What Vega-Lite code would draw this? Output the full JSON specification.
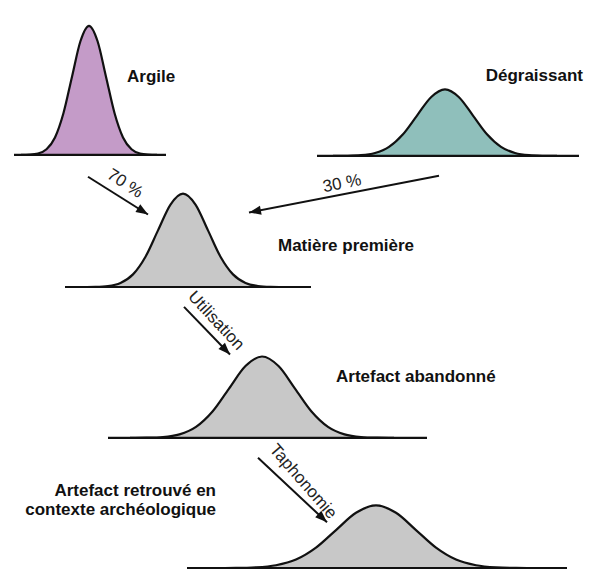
{
  "$schema": "https://vega.github.io/schema/vega-lite/v6.json",
  "width": 590,
  "height": 573,
  "autosize": {"type": "fit", "contains": "padding"},
  "padding": 0,
  "background": "white",
  "config": {"view": {"stroke": null}},
  "datasets": {
    "curves": [
      {"curve": "Argile", "x": 21, "y": 156, "base": 156},
      {"curve": "Argile", "x": 29.5, "y": 155.7, "base": 156},
      {"curve": "Argile", "x": 38, "y": 154.6, "base": 156},
      {"curve": "Argile", "x": 46.5, "y": 150.3, "base": 156},
      {"curve": "Argile", "x": 55, "y": 138.4, "base": 156},
      {"curve": "Argile", "x": 63.5, "y": 113.8, "base": 156},
      {"curve": "Argile", "x": 72, "y": 77.2, "base": 156},
      {"curve": "Argile", "x": 80.5, "y": 41.3, "base": 156},
      {"curve": "Argile", "x": 89, "y": 26, "base": 156},
      {"curve": "Argile", "x": 97.5, "y": 41.3, "base": 156},
      {"curve": "Argile", "x": 106, "y": 77.2, "base": 156},
      {"curve": "Argile", "x": 114.5, "y": 113.8, "base": 156},
      {"curve": "Argile", "x": 123, "y": 138.4, "base": 156},
      {"curve": "Argile", "x": 131.5, "y": 150.3, "base": 156},
      {"curve": "Argile", "x": 140, "y": 154.6, "base": 156},
      {"curve": "Argile", "x": 148.5, "y": 155.7, "base": 156},
      {"curve": "Argile", "x": 157, "y": 156, "base": 156},
      {"curve": "Dégraissant", "x": 333, "y": 157, "base": 157},
      {"curve": "Dégraissant", "x": 347, "y": 156.85, "base": 157},
      {"curve": "Dégraissant", "x": 361, "y": 156.3, "base": 157},
      {"curve": "Dégraissant", "x": 375, "y": 154.1, "base": 157},
      {"curve": "Dégraissant", "x": 389, "y": 147.9, "base": 157},
      {"curve": "Dégraissant", "x": 403, "y": 135.2, "base": 157},
      {"curve": "Dégraissant", "x": 417, "y": 116.4, "base": 157},
      {"curve": "Dégraissant", "x": 431, "y": 97.9, "base": 157},
      {"curve": "Dégraissant", "x": 445, "y": 90, "base": 157},
      {"curve": "Dégraissant", "x": 459, "y": 97.9, "base": 157},
      {"curve": "Dégraissant", "x": 473, "y": 116.4, "base": 157},
      {"curve": "Dégraissant", "x": 487, "y": 135.2, "base": 157},
      {"curve": "Dégraissant", "x": 501, "y": 147.9, "base": 157},
      {"curve": "Dégraissant", "x": 515, "y": 154.1, "base": 157},
      {"curve": "Dégraissant", "x": 529, "y": 156.3, "base": 157},
      {"curve": "Dégraissant", "x": 543, "y": 156.85, "base": 157},
      {"curve": "Dégraissant", "x": 557, "y": 157, "base": 157},
      {"curve": "Matière première", "x": 83, "y": 289, "base": 289},
      {"curve": "Matière première", "x": 95.5, "y": 288.8, "base": 289},
      {"curve": "Matière première", "x": 108, "y": 288, "base": 289},
      {"curve": "Matière première", "x": 120.5, "y": 284.9, "base": 289},
      {"curve": "Matière première", "x": 133, "y": 276.3, "base": 289},
      {"curve": "Matière première", "x": 145.5, "y": 258.5, "base": 289},
      {"curve": "Matière première", "x": 158, "y": 232, "base": 289},
      {"curve": "Matière première", "x": 170.5, "y": 206, "base": 289},
      {"curve": "Matière première", "x": 183, "y": 195, "base": 289},
      {"curve": "Matière première", "x": 195.5, "y": 206, "base": 289},
      {"curve": "Matière première", "x": 208, "y": 232, "base": 289},
      {"curve": "Matière première", "x": 220.5, "y": 258.5, "base": 289},
      {"curve": "Matière première", "x": 233, "y": 276.3, "base": 289},
      {"curve": "Matière première", "x": 245.5, "y": 284.9, "base": 289},
      {"curve": "Matière première", "x": 258, "y": 288, "base": 289},
      {"curve": "Matière première", "x": 270.5, "y": 288.8, "base": 289},
      {"curve": "Matière première", "x": 283, "y": 289, "base": 289},
      {"curve": "Artefact abandonné", "x": 130, "y": 441, "base": 441},
      {"curve": "Artefact abandonné", "x": 146.5, "y": 440.8, "base": 441},
      {"curve": "Artefact abandonné", "x": 163, "y": 440.1, "base": 441},
      {"curve": "Artefact abandonné", "x": 179.5, "y": 437.4, "base": 441},
      {"curve": "Artefact abandonné", "x": 196, "y": 429.9, "base": 441},
      {"curve": "Artefact abandonné", "x": 212.5, "y": 414.4, "base": 441},
      {"curve": "Artefact abandonné", "x": 229, "y": 391.3, "base": 441},
      {"curve": "Artefact abandonné", "x": 245.5, "y": 368.6, "base": 441},
      {"curve": "Artefact abandonné", "x": 262, "y": 359, "base": 441},
      {"curve": "Artefact abandonné", "x": 278.5, "y": 368.6, "base": 441},
      {"curve": "Artefact abandonné", "x": 295, "y": 391.3, "base": 441},
      {"curve": "Artefact abandonné", "x": 311.5, "y": 414.4, "base": 441},
      {"curve": "Artefact abandonné", "x": 328, "y": 429.9, "base": 441},
      {"curve": "Artefact abandonné", "x": 344.5, "y": 437.4, "base": 441},
      {"curve": "Artefact abandonné", "x": 361, "y": 440.1, "base": 441},
      {"curve": "Artefact abandonné", "x": 377.5, "y": 440.8, "base": 441},
      {"curve": "Artefact abandonné", "x": 394, "y": 441, "base": 441},
      {"curve": "Artefact retrouvé", "x": 216, "y": 572, "base": 572},
      {"curve": "Artefact retrouvé", "x": 236, "y": 571.9, "base": 572},
      {"curve": "Artefact retrouvé", "x": 256, "y": 571.3, "base": 572},
      {"curve": "Artefact retrouvé", "x": 276, "y": 569.2, "base": 572},
      {"curve": "Artefact retrouvé", "x": 296, "y": 563.5, "base": 572},
      {"curve": "Artefact retrouvé", "x": 316, "y": 551.5, "base": 572},
      {"curve": "Artefact retrouvé", "x": 336, "y": 533.8, "base": 572},
      {"curve": "Artefact retrouvé", "x": 356, "y": 516.4, "base": 572},
      {"curve": "Artefact retrouvé", "x": 376, "y": 509, "base": 572},
      {"curve": "Artefact retrouvé", "x": 396, "y": 516.4, "base": 572},
      {"curve": "Artefact retrouvé", "x": 416, "y": 533.8, "base": 572},
      {"curve": "Artefact retrouvé", "x": 436, "y": 551.5, "base": 572},
      {"curve": "Artefact retrouvé", "x": 456, "y": 563.5, "base": 572},
      {"curve": "Artefact retrouvé", "x": 476, "y": 569.2, "base": 572},
      {"curve": "Artefact retrouvé", "x": 496, "y": 571.3, "base": 572},
      {"curve": "Artefact retrouvé", "x": 516, "y": 571.9, "base": 572},
      {"curve": "Artefact retrouvé", "x": 536, "y": 572, "base": 572}
    ],
    "baselines": [
      {"curve": "Argile", "x": 14, "x2": 166, "y": 156},
      {"curve": "Dégraissant", "x": 317, "x2": 579, "y": 157},
      {"curve": "Matière première", "x": 65, "x2": 311, "y": 289},
      {"curve": "Artefact abandonné", "x": 108, "x2": 427, "y": 441},
      {"curve": "Artefact retrouvé", "x": 187, "x2": 567, "y": 572}
    ],
    "arrows": [
      {"arrow": "70", "x": 88, "y": 178, "x2": 148, "y2": 216},
      {"arrow": "30", "x": 439, "y": 177, "x2": 249, "y2": 214},
      {"arrow": "util", "x": 184, "y": 309, "x2": 230, "y2": 357},
      {"arrow": "taph", "x": 258, "y": 461, "x2": 327, "y2": 526}
    ],
    "labels": [
      {"text": "Argile", "x": 127, "y": 83},
      {"text": "Dégraissant", "x": 583, "y": 82},
      {"text": "Matière première", "x": 278, "y": 253},
      {"text": "Artefact abandonné", "x": 336, "y": 385},
      {"text": "Artefact retrouvé en", "x": 216, "y": 499},
      {"text": "contexte archéologique", "x": 216, "y": 519}
    ],
    "arrowLabels": [
      {"text": "70 %", "x": 125, "y": 185},
      {"text": "30 %", "x": 342, "y": 185},
      {"text": "Utilisation", "x": 216, "y": 323},
      {"text": "Taphonomie", "x": 303, "y": 485}
    ]
  },
  "encoding": {
    "x": {"field": "x", "type": "quantitative", "scale": {"domain": [0, 590], "nice": false, "zero": false}, "axis": null},
    "y": {"field": "y", "type": "quantitative", "scale": {"domain": [0, 573], "nice": false, "zero": false, "reverse": true}, "axis": null}
  },
  "layer": [
    {
      "data": {"name": "curves"},
      "mark": {"type": "area", "interpolate": "monotone", "opacity": 1},
      "encoding": {
        "y2": {"field": "base"},
        "color": {
          "field": "curve", "type": "nominal", "legend": null,
          "scale": {
            "domain": ["Argile", "Dégraissant", "Matière première", "Artefact abandonné", "Artefact retrouvé"],
            "range": ["#c49bc8", "#8fbfbb", "#c8c8c8", "#c8c8c8", "#c8c8c8"]
          }
        }
      }
    },
    {
      "data": {"name": "curves"},
      "mark": {"type": "line", "interpolate": "monotone", "color": "#111111", "strokeWidth": 2.2},
      "encoding": {"detail": {"field": "curve"}}
    },
    {
      "data": {"name": "baselines"},
      "mark": {"type": "rule", "color": "#111111", "strokeWidth": 2.2},
      "encoding": {"x2": {"field": "x2"}}
    },
    {
      "data": {"name": "arrows"},
      "mark": {"type": "rule", "color": "#111111", "strokeWidth": 2},
      "encoding": {"x2": {"field": "x2"}, "y2": {"field": "y2"}}
    },
    {
      "data": {"name": "arrows"},
      "transform": [{"filter": "datum.arrow == '70'"}],
      "mark": {"type": "point", "shape": "M0,0L-2,-0.75L-2,0.75Z", "filled": true, "size": 144, "color": "#111111", "opacity": 1, "angle": 32.3},
      "encoding": {
        "x": {"field": "x2", "type": "quantitative", "scale": {"domain": [0, 590], "nice": false, "zero": false}, "axis": null},
        "y": {"field": "y2", "type": "quantitative", "scale": {"domain": [0, 573], "nice": false, "zero": false, "reverse": true}, "axis": null}
      }
    },
    {
      "data": {"name": "arrows"},
      "transform": [{"filter": "datum.arrow == '30'"}],
      "mark": {"type": "point", "shape": "M0,0L-2,-0.75L-2,0.75Z", "filled": true, "size": 144, "color": "#111111", "opacity": 1, "angle": 169},
      "encoding": {
        "x": {"field": "x2", "type": "quantitative", "scale": {"domain": [0, 590], "nice": false, "zero": false}, "axis": null},
        "y": {"field": "y2", "type": "quantitative", "scale": {"domain": [0, 573], "nice": false, "zero": false, "reverse": true}, "axis": null}
      }
    },
    {
      "data": {"name": "arrows"},
      "transform": [{"filter": "datum.arrow == 'util'"}],
      "mark": {"type": "point", "shape": "M0,0L-2,-0.75L-2,0.75Z", "filled": true, "size": 144, "color": "#111111", "opacity": 1, "angle": 46.2},
      "encoding": {
        "x": {"field": "x2", "type": "quantitative", "scale": {"domain": [0, 590], "nice": false, "zero": false}, "axis": null},
        "y": {"field": "y2", "type": "quantitative", "scale": {"domain": [0, 573], "nice": false, "zero": false, "reverse": true}, "axis": null}
      }
    },
    {
      "data": {"name": "arrows"},
      "transform": [{"filter": "datum.arrow == 'taph'"}],
      "mark": {"type": "point", "shape": "M0,0L-2,-0.75L-2,0.75Z", "filled": true, "size": 144, "color": "#111111", "opacity": 1, "angle": 43.3},
      "encoding": {
        "x": {"field": "x2", "type": "quantitative", "scale": {"domain": [0, 590], "nice": false, "zero": false}, "axis": null},
        "y": {"field": "y2", "type": "quantitative", "scale": {"domain": [0, 573], "nice": false, "zero": false, "reverse": true}, "axis": null}
      }
    },
    {
      "data": {"name": "labels"},
      "transform": [{"filter": {"field": "text", "oneOf": ["Argile", "Matière première", "Artefact abandonné"]}}],
      "mark": {"type": "text", "align": "left", "baseline": "alphabetic", "font": "Liberation Sans", "fontSize": 17, "fontWeight": "bold", "color": "#111111"},
      "encoding": {"text": {"field": "text"}}
    },
    {
      "data": {"name": "labels"},
      "transform": [{"filter": {"field": "text", "oneOf": ["Dégraissant", "Artefact retrouvé en", "contexte archéologique"]}}],
      "mark": {"type": "text", "align": "right", "baseline": "alphabetic", "font": "Liberation Sans", "fontSize": 17, "fontWeight": "bold", "color": "#111111"},
      "encoding": {"text": {"field": "text"}}
    },
    {
      "data": {"name": "arrowLabels"},
      "transform": [{"filter": "datum.text == '70 %'"}],
      "mark": {"type": "text", "align": "center", "baseline": "middle", "font": "Liberation Sans", "fontSize": 17, "color": "#222222", "angle": 33},
      "encoding": {"text": {"field": "text"}}
    },
    {
      "data": {"name": "arrowLabels"},
      "transform": [{"filter": "datum.text == '30 %'"}],
      "mark": {"type": "text", "align": "center", "baseline": "middle", "font": "Liberation Sans", "fontSize": 17, "color": "#222222", "angle": -11},
      "encoding": {"text": {"field": "text"}}
    },
    {
      "data": {"name": "arrowLabels"},
      "transform": [{"filter": "datum.text == 'Utilisation'"}],
      "mark": {"type": "text", "align": "center", "baseline": "middle", "font": "Liberation Sans", "fontSize": 17, "color": "#222222", "angle": 47},
      "encoding": {"text": {"field": "text"}}
    },
    {
      "data": {"name": "arrowLabels"},
      "transform": [{"filter": "datum.text == 'Taphonomie'"}],
      "mark": {"type": "text", "align": "center", "baseline": "middle", "font": "Liberation Sans", "fontSize": 17, "color": "#222222", "angle": 49},
      "encoding": {"text": {"field": "text"}}
    }
  ]
}
